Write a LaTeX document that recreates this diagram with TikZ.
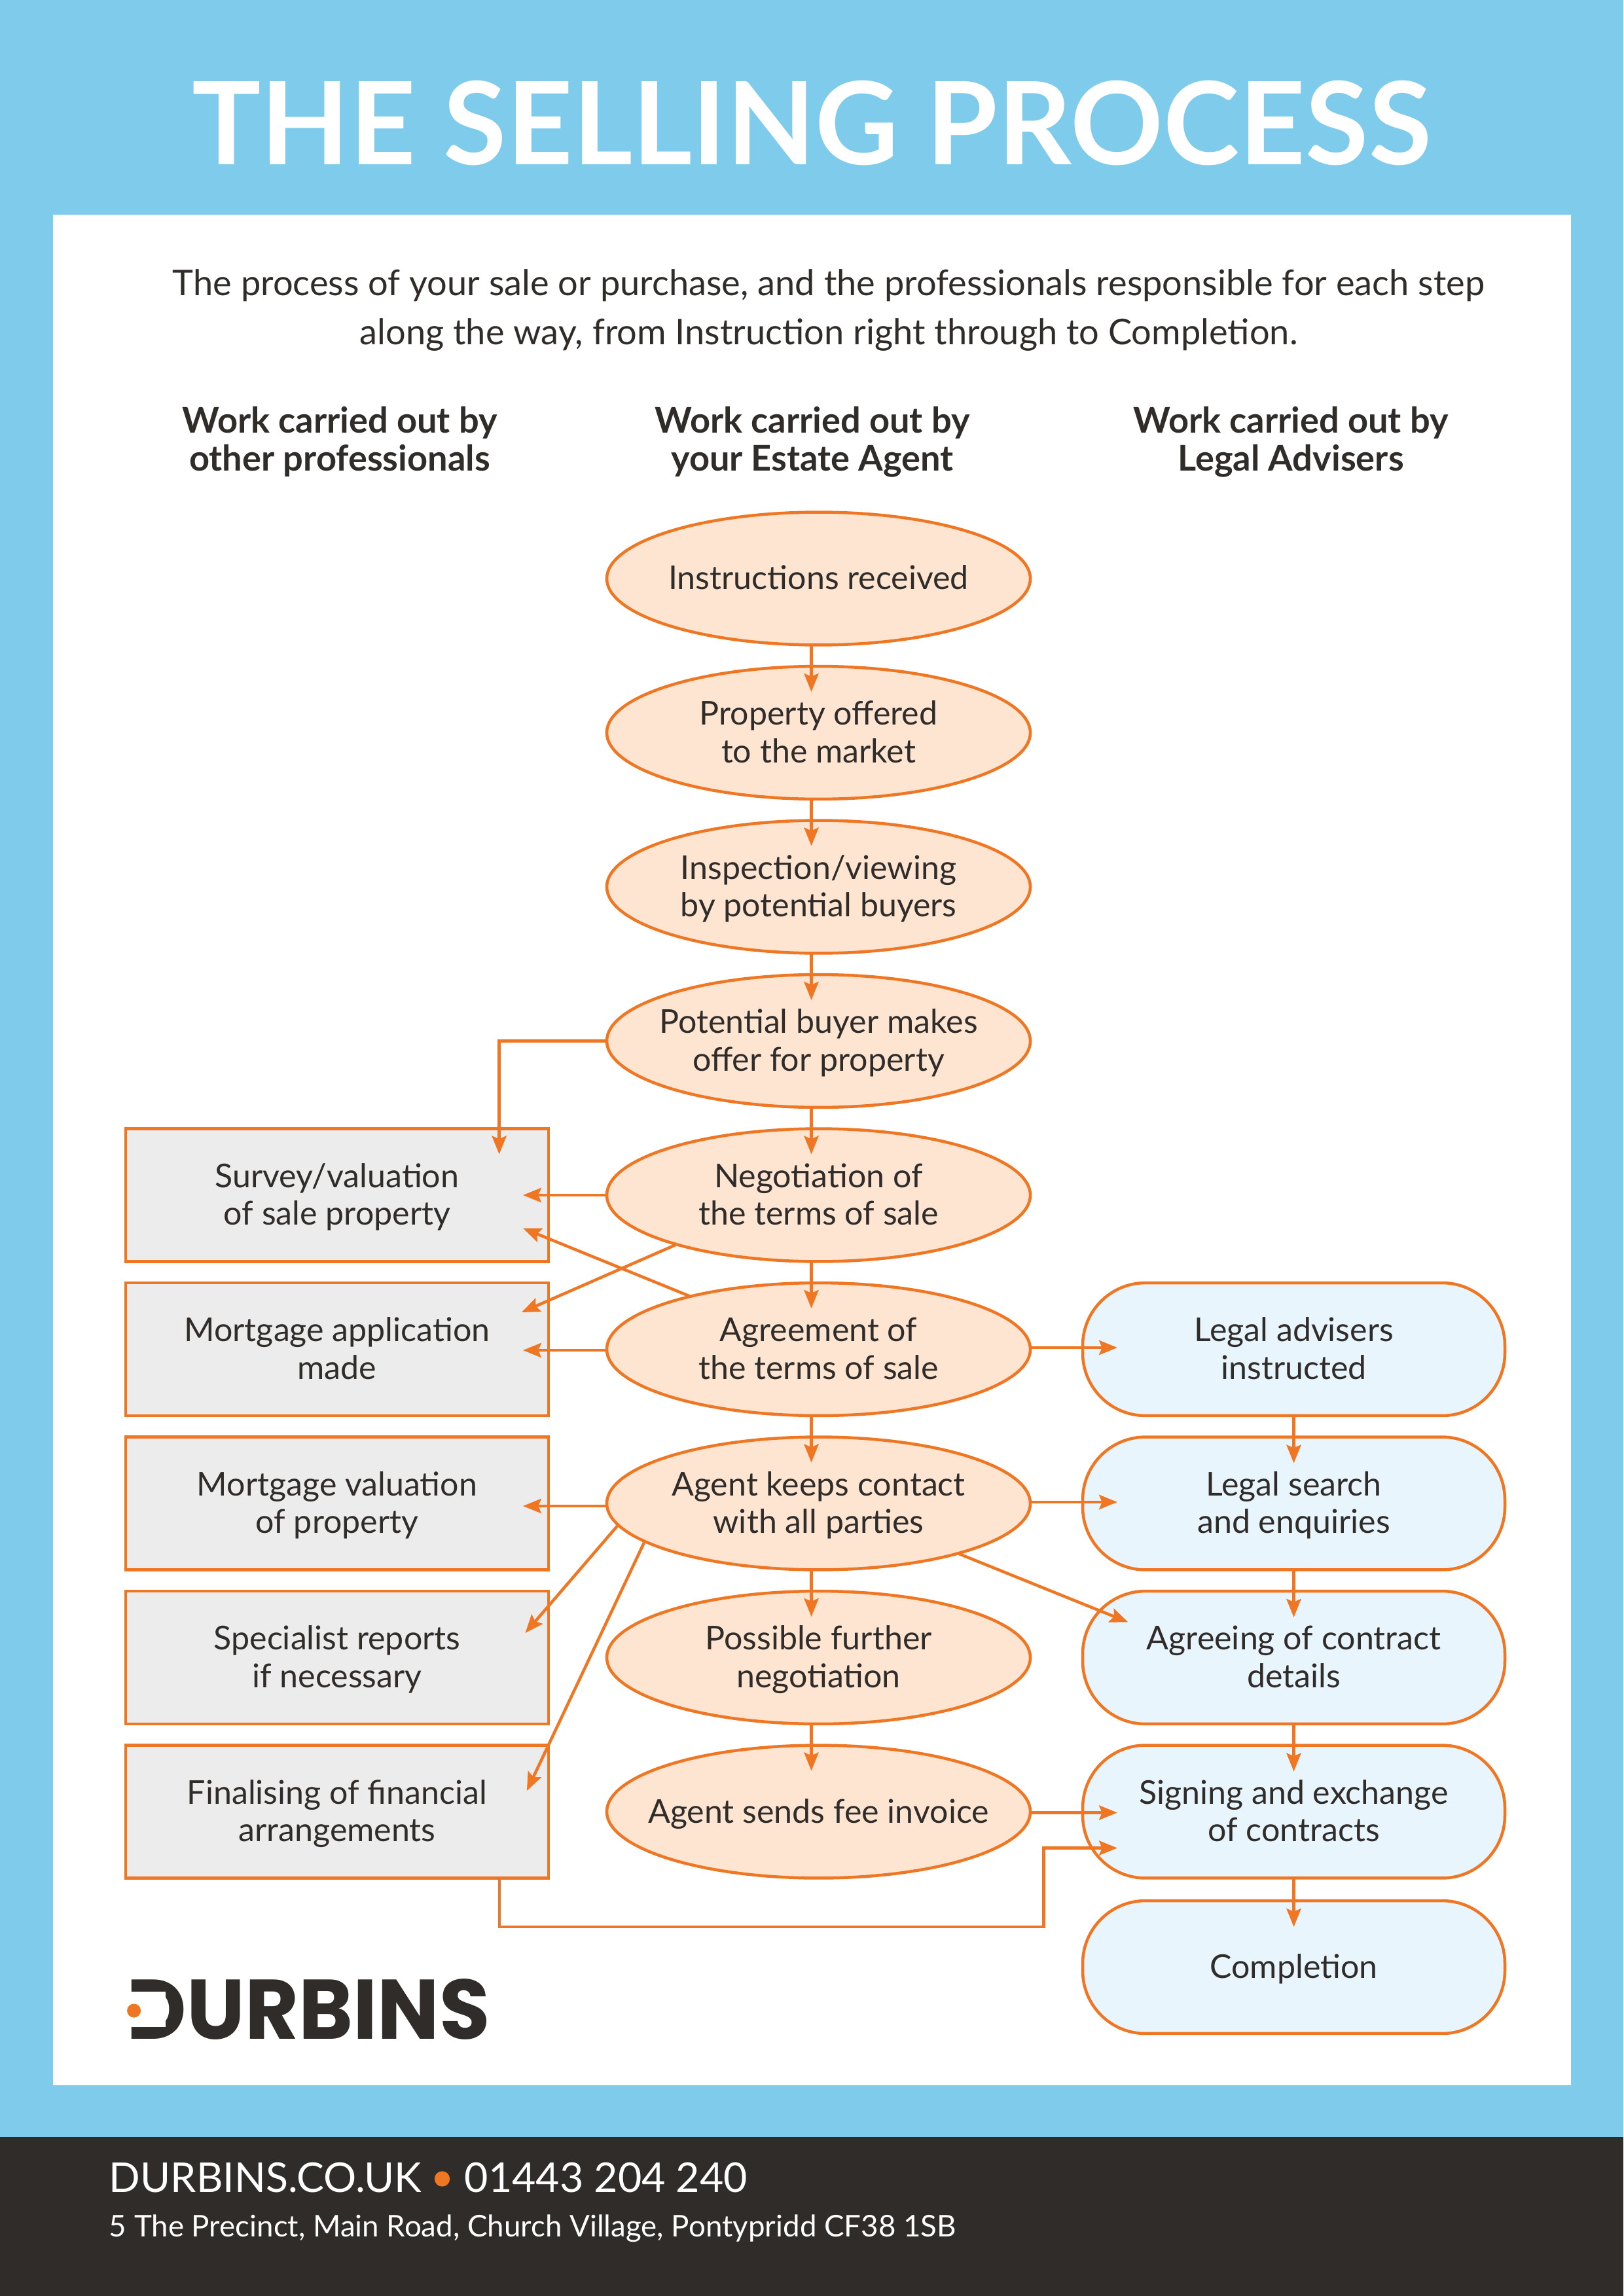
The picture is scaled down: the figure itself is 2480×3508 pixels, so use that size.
\documentclass[tikz,border=0pt]{standalone}
\usepackage{fontspec}
\usepackage{graphicx}
\setmainfont{Lato}
\usetikzlibrary{calc,arrows.meta,shapes.geometric,shapes.misc}
\definecolor{skyb}{HTML}{7FCBEC}
\definecolor{darkb}{HTML}{2F2C2A}
\definecolor{orng}{HTML}{EF7622}
\definecolor{peach}{HTML}{FDE5D2}
\definecolor{greyb}{HTML}{ECECEC}
\definecolor{paleb}{HTML}{E8F5FD}
\newcommand{\bodyf}{\fontsize{12.03pt}{13.85pt}\selectfont}
\newcommand{\tl}[1]{\rule{0pt}{12pt}#1\rule[-3.84pt]{0pt}{3.84pt}}
\tikzset{
 x=0.24pt,y=-0.24pt,
 box/.style={draw=orng,line width=1.08pt,align=center,text=darkb,inner sep=0pt,outer sep=0pt,font=\bodyf},
 oval/.style={box,ellipse,fill=peach,minimum width=155.3pt,minimum height=48.7pt,inner xsep=-30pt,inner ysep=-12pt},
 rectb/.style={box,rectangle,fill=greyb,minimum width=155pt,minimum height=48.7pt},
 roundb/.style={box,rectangle,rounded corners=23pt,fill=paleb,minimum width=154.8pt,minimum height=48.7pt},
 arr/.style={draw=orng,line width=1.08pt,-{Stealth[length=6.7pt,width=5.3pt,inset=1.1pt]}},
 lbl/.style={inner sep=0pt,text=darkb,align=center},
}
\begin{document}
\begin{tikzpicture}
\useasboundingbox (0,0) rectangle (2480,3508);
\fill[skyb] (0,0) rectangle (2480,3265);
\fill[white] (81,328) rectangle (2400,3186);
\fill[darkb] (0,3265) rectangle (2480,3508);

\node[lbl,text=white,font=\fontsize{42.15pt}{42.15pt}\selectfont\bfseries,anchor=base] (title) at (1240,252) {THE SELLING PROCESS};
\node[lbl,font=\fontsize{13pt}{18pt}\selectfont,anchor=base] (intro1) at (1266,452) {The process of your sale or purchase, and the professionals responsible for each step};
\node[lbl,font=\fontsize{13pt}{18pt}\selectfont,anchor=base] (intro2) at (1266,527) {along the way, from Instruction right through to Completion.};

\foreach \n/\cx/\a/\b in {h1/519/Work carried out by/other professionals,h2/1241/Work carried out by/your Estate Agent,h3/1972/Work carried out by/Legal Advisers}{
 \node[lbl,font=\fontsize{13pt}{14pt}\selectfont\bfseries,anchor=base] (\n a) at (\cx,662) {\a};
 \node[lbl,font=\fontsize{13pt}{14pt}\selectfont\bfseries,anchor=base] (\n b) at (\cx,720) {\b};
}

\node[oval] (e1) at (1250.5,884) {\tl{Instructions received}};
\node[oval] (e2) at (1250.5,1119.5) {\tl{Property offered\\to the market}};
\node[oval] (e3) at (1250.5,1355) {\tl{Inspection/viewing\\by potential buyers}};
\node[oval] (e4) at (1250.5,1590.5) {\tl{Potential buyer makes\\offer for property}};
\node[oval] (e5) at (1250.5,1826) {\tl{Negotiation of\\the terms of sale}};
\node[oval] (e6) at (1250.5,2061.5) {\tl{Agreement of\\the terms of sale}};
\node[oval] (e7) at (1250.5,2297) {\tl{Agent keeps contact\\with all parties}};
\node[oval] (e8) at (1250.5,2532.5) {\tl{Possible further\\negotiation}};
\node[oval] (e9) at (1250.5,2768) {\tl{Agent sends fee invoice}};

\node[rectb] (r1) at (515,1826) {\tl{Survey/valuation\\of sale property}};
\node[rectb] (r2) at (515,2061.5) {\tl{Mortgage application\\made}};
\node[rectb] (r3) at (515,2297) {\tl{Mortgage valuation\\of property}};
\node[rectb] (r4) at (515,2532.5) {\tl{Specialist reports\\if necessary}};
\node[rectb] (r5) at (515,2768) {\tl{Finalising of financial\\arrangements}};

\node[roundb] (b1) at (1976.5,2061.5) {\tl{Legal advisers\\instructed}};
\node[roundb] (b2) at (1976.5,2297) {\tl{Legal search\\and enquiries}};
\node[roundb] (b3) at (1976.5,2532.5) {\tl{Agreeing of contract\\details}};
\node[roundb] (b4) at (1976.5,2768) {\tl{Signing and exchange\\of contracts}};
\node[roundb] (b5) at (1976.5,3005.5) {\tl{Completion}};

\foreach \u/\v in {e1/e2,e2/e3,e3/e4,e4/e5,e5/e6,e6/e7,e7/e8,e8/e9}{
 \draw[arr] ($(\u.south)+(-11,0)$) -- ($(\v.north)+(-11,39)$);
}
\foreach \u/\v in {b1/b2,b2/b3,b3/b4,b4/b5}{
 \draw[arr] (\u.south) -- ($(\v.north)+(0,40)$);
}
\foreach \u/\v/\d in {e5/r1/0,e6/r2/1.5,e7/r3/4}{
 \draw[arr] ($(\u.west)+(0,\d)$) -- ($(\v.east)+(-39,\d)$);
}
\foreach \u/\v/\d in {e6/b1/-2.5,e7/b2/-2,e9/b4/1.5}{
 \draw[arr] ($(\u.east)+(0,\d)$) -- ($(\v.west)+(53,\d)$);
}
\draw[arr] (e4.west) -| ($(r1.north west)+(570.5,39)$);
\draw[arr] ($(e5.west)+(105,76)$) -- ($(r2.east)+(-41,-56.5)$);
\draw[arr] ($(e6.west)+(127,-81)$) -- ($(r1.east)+(-39,50.5)$);
\draw[arr] ($(e7.west)+(16,34.6)$) -- ($(r4.east)+(-35.5,-37.5)$);
\draw[arr] ($(e7.west)+(57,60)$) -- ($(r5.east)+(-33,-32)$);
\draw[arr] ($(e7.east)+(-109,77)$) -- ($(b3.west)+(69.5,-54)$);
\coordinate (fa) at (1594.7,2944);
\draw[arr] ($(r5.south east)+(-75,0)$) |- (fa) |- ($(b4.west)+(53,55.5)$);

\node[lbl,text=darkb,font=\fontsize{31pt}{31pt}\selectfont\fontspec{Poppins}\bfseries,anchor=base west] (logo) at (193,3115.5) {\scalebox{0.975}[1]{DURBINS}};
\fill[white] (180,3043) rectangle (253,3097);
\fill[orng] (204.6,3072) circle (10.5);

\node[lbl,text=white,font=\fontsize{15.05pt}{15pt}\selectfont,anchor=base west] (f1) at (166,3349) {DURBINS.CO.UK};
\fill[orng] (675.5,3329) circle (11.7);
\node[lbl,text=white,font=\fontsize{15.05pt}{15pt}\selectfont,anchor=base west] (f2) at (709,3349) {01443 204 240};
\node[lbl,text=white,font=\fontsize{10.96pt}{11pt}\selectfont,anchor=base west] (f3) at (166,3417) {5 The Precinct, Main Road, Church Village, Pontypridd CF38 1SB};
\end{tikzpicture}
\end{document}
